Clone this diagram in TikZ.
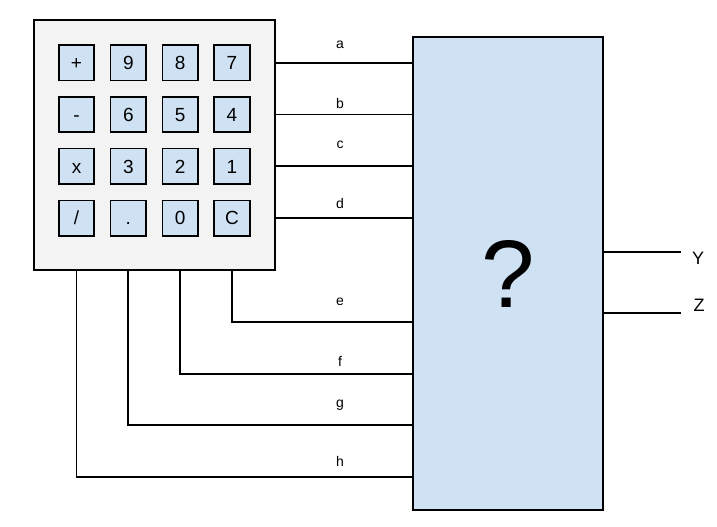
\documentclass[tikz,border=0pt]{standalone}
\usepackage{fontspec}
\setmainfont{Liberation Sans}
\definecolor{padfill}{HTML}{F3F3F3}
\definecolor{boxfill}{HTML}{CFE2F3}
\begin{document}
\begin{tikzpicture}[x=1pt,y=-1pt,
  wire/.style={line width=1.7pt},
  keybox/.style={draw,line width=1.7pt,fill=boxfill,minimum width=35.5pt,minimum height=35.5pt,inner sep=0pt,text height=13.6pt,text depth=0pt,font=\fontsize{19}{21}\selectfont},
  wlabel/.style={inner sep=0pt,font=\fontsize{14}{16}\selectfont},
  olabel/.style={inner sep=0pt,font=\fontsize{18}{20}\selectfont}]
\useasboundingbox (0,0) rectangle (717,527);
\node[draw,line width=1.7pt,fill=padfill,minimum width=241pt,minimum height=250pt,inner sep=0pt] (kp) at (154.5,145) {};
\node[draw,line width=1.7pt,fill=boxfill,minimum width=190pt,minimum height=473pt,inner sep=0pt,font=\fontsize{96}{100}\selectfont] (box) at (508,273.5) {?};
% keys
\foreach \lab [count=\i from 0] in {+,9,8,7,-,6,5,4,x,3,2,1,/,.,0,C}{
  \pgfmathtruncatemacro{\r}{int(\i/4)}
  \pgfmathtruncatemacro{\c}{mod(\i,4)}
  \node[keybox] (k\i) at (76.5+51.8*\c,62.7+51.8*\r) {\lab};
}
% right-hand wires
\coordinate (ya) at (0,62.7);
\coordinate (yb) at (0,114.5);
\coordinate (yc) at (0,166.3);
\coordinate (yd) at (0,218.1);
\draw[wire] (kp.east |- ya) -- (box.west |- ya);
\draw[wire] (kp.east |- yb) -- (box.west |- yb);
\draw[wire] (kp.east |- yc) -- (box.west |- yc);
\draw[wire] (kp.east |- yd) -- (box.west |- yd);
% bottom wires
\coordinate (ye) at (0,321.7);
\coordinate (yf) at (0,374.3);
\coordinate (yg) at (0,425.3);
\coordinate (yh) at (0,477.3);
\draw[wire] (kp.south -| k15) |- (box.west |- ye);
\draw[wire] (kp.south -| k14) |- (box.west |- yf);
\draw[wire] (kp.south -| k13) |- (box.west |- yg);
\draw[wire] (kp.south -| k12) |- (box.west |- yh);
% outputs
\coordinate (yy) at (0,252.3);
\coordinate (yz) at (0,312.7);
\coordinate (xo) at (681,0);
\draw[wire] (box.east |- yy) -- (xo |- yy);
\draw[wire] (box.east |- yz) -- (xo |- yz);
\node[olabel] (lY) at (698,258) {Y};
\node[olabel] (lZ) at (699,305) {Z};
% wire labels
\node[wlabel] (la) at (340,45) {a};
\node[wlabel] (lb) at (340,103) {b};
\node[wlabel] (lc) at (340,145) {c};
\node[wlabel] (ld) at (340,203) {d};
\node[wlabel] (le) at (340,302) {e};
\node[wlabel] (lf) at (340,361) {f};
\node[wlabel] (lg) at (340,405) {g};
\node[wlabel] (lh) at (340,461) {h};
\end{tikzpicture}
\end{document}
